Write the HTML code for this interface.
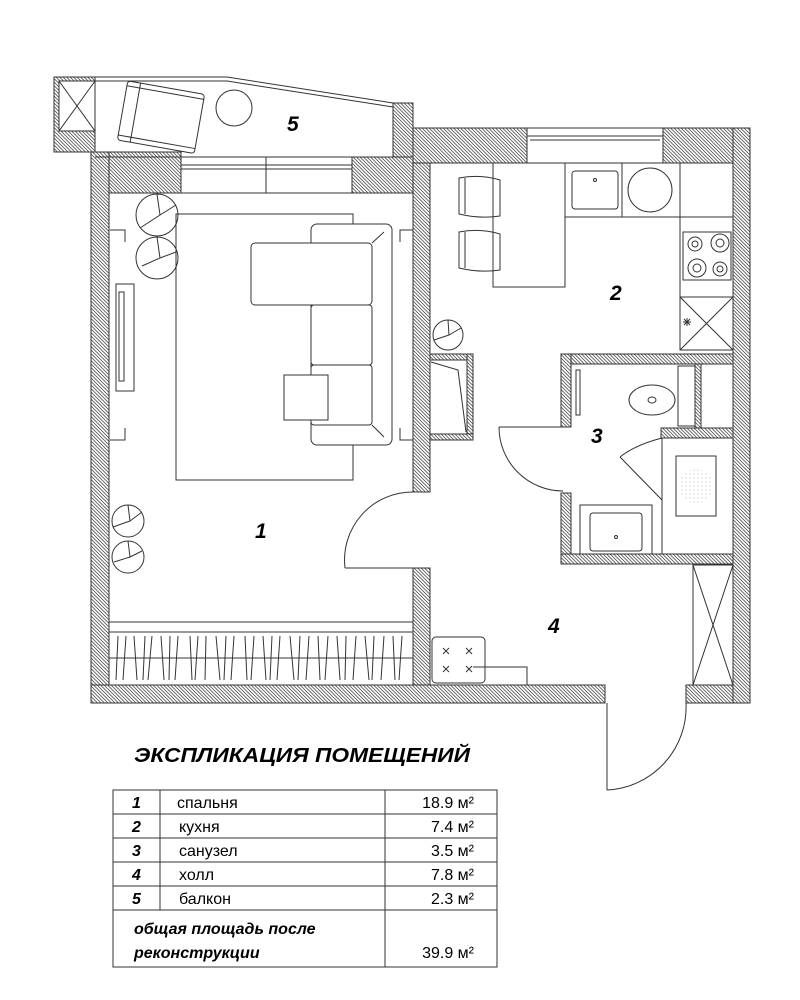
<!DOCTYPE html>
<html><head><meta charset="utf-8"><style>
html,body{margin:0;padding:0;background:#fff}
svg{display:block}
text{font-family:"Liberation Sans",sans-serif}
.n{font-weight:bold;font-style:italic;font-size:21px}
</style></head><body>
<svg width="800" height="1000" viewBox="0 0 800 1000" xmlns="http://www.w3.org/2000/svg">
<defs>
<pattern id="h" patternUnits="userSpaceOnUse" width="3.5" height="3.5">
<rect width="3.5" height="3.5" fill="#fff"/>
<path d="M-1,-1 L4.5,4.5 M-1,2.5 L1,4.5 M2.5,-1 L4.5,1" stroke="#555" stroke-width="0.8"/>
</pattern>
<pattern id="d" patternUnits="userSpaceOnUse" width="4" height="4">
<circle cx="2" cy="2" r="0.5" fill="#999"/>
</pattern>
</defs>
<g fill="url(#h)" stroke="#333" stroke-width="1">
<rect x="54" y="77" width="41" height="75"/>
<rect x="393" y="103" width="20" height="54"/>
<rect x="91" y="152" width="90" height="41"/>
<rect x="352" y="157" width="78" height="36"/>
<rect x="91" y="152" width="18" height="551"/>
<rect x="91" y="685" width="514" height="18"/>
<rect x="686" y="685" width="64" height="18"/>
<rect x="413" y="128" width="17" height="364"/>
<rect x="413" y="568" width="17" height="117"/>
<rect x="413" y="128" width="114" height="35"/>
<rect x="663" y="128" width="87" height="35"/>
<rect x="733" y="128" width="17" height="575"/>
<rect x="561" y="354" width="172" height="10"/>
<rect x="561" y="354" width="10" height="73"/>
<rect x="561" y="493" width="10" height="71"/>
<rect x="561" y="554" width="172" height="10"/>
<rect x="661" y="428" width="72" height="10"/>
<rect x="695" y="364" width="6" height="64"/>
<rect x="430" y="354" width="43" height="6"/>
<rect x="467" y="354" width="6" height="86"/>
<rect x="430" y="434" width="43" height="6"/>
</g>
<g fill="#fff" stroke="#333" stroke-width="1">
<rect x="431" y="361" width="35" height="72" stroke="none"/>
<rect x="59" y="81" width="36" height="50"/>
<rect x="693" y="565" width="40" height="120"/>
<rect x="680" y="297" width="53" height="53"/>
</g>
<g stroke="#333" stroke-width="1" fill="none">
<path d="M59,81 L95,131 M95,81 L59,131"/>
<path d="M693,565 L733,685 M733,565 L693,685"/>
<path d="M680,297 L733,350 M733,297 L680,350"/>
<path d="M431,362 L458,370 L466,432"/>
<path d="M54,77 L227,77 L393,103"/>
<path d="M95,81 L227,81 L393,107"/>
<path d="M95,157 L393,157"/>
<rect x="181" y="157" width="171" height="36" fill="#fff"/>
<path d="M181,165 H352 M181,169 H352 M266,157 V193"/>
<rect x="527" y="128" width="136" height="35" fill="#fff"/>
<path d="M527,136 H663 M530,140 H660"/>
<g transform="rotate(10 160 117)">
<rect x="122" y="87" width="78" height="60" rx="3"/>
<path d="M122,92 H200 M122,142 H200 M135,87 V147"/>
</g>
<circle cx="234" cy="108" r="18"/>
<rect x="176" y="214" width="177" height="266"/>
<rect x="311" y="224" width="81" height="221" rx="6" fill="#fff"/>
<rect x="251" y="243" width="121" height="62" rx="4" fill="#fff"/>
<rect x="311" y="305" width="61" height="60" rx="3"/>
<rect x="311" y="365" width="61" height="60" rx="3" fill="#fff"/>
<path d="M372,243 L384,232 M372,425 L384,437"/>
<rect x="284" y="375" width="44" height="45" fill="#fff"/>
<rect x="116" y="284" width="18" height="107"/>
<rect x="119" y="292" width="5" height="89"/>
<path d="M110,230 H125 V242 M110,440 H125 V428 M413,230 H400 V242 M413,440 H400 V428"/>
<circle cx="157" cy="215" r="21"/><circle cx="157" cy="258" r="21"/>
<circle cx="128" cy="521" r="16"/><circle cx="128" cy="557" r="16"/>
<circle cx="448" cy="335" r="15"/>
<path d="M157,194 L160,215 L140,228 M160,215 L176,205 M157,237 L160,258 L142,266 M160,258 L176,252 M128,505 L130,521 L113,527 M130,521 L142,512 M128,541 L130,557 L114,562 M130,557 L142,551 M448,320 L449,335 L434,340 M449,335 L461,328"/>
<rect x="109" y="622" width="304" height="10"/>
<rect x="109" y="632" width="304" height="53"/>
<path d="M109,658 H413"/>
<path d="M118,636 l-2,44 M126,636 l-3,44 M134,636 l3,44 M145,636 l-2,44 M152,636 l-4,44 M161,636 l3,44 M170,636 l-1,44 M178,636 l-3,44 M190,636 l2,44 M198,636 l-3,44 M206,636 l-1,44 M216,636 l4,44 M226,636 l-2,44 M234,636 l-3,44 M245,636 l2,44 M254,636 l-3,44 M263,636 l3,44 M272,636 l-2,44 M280,636 l-3,44 M290,636 l4,44 M300,636 l-2,44 M309,636 l-3,44 M318,636 l2,44 M328,636 l-3,44 M337,636 l3,44 M346,636 l-1,44 M356,636 l-3,44 M365,636 l4,44 M374,636 l-2,44 M384,636 l-3,44 M393,636 l2,44 M402,636 l-3,44"/>
<path d="M345,568 H413 M345,568 A68,68 0 0 1 413,492"/>
<path d="M499,427 H563 M499,427 A64,64 0 0 0 563,491"/>
<path d="M607,703 V790 M607,790 A83,83 0 0 0 686,703"/>
<rect x="493" y="163" width="72" height="124"/>
<rect x="565" y="163" width="115" height="54"/>
<path d="M622,163 V217"/>
<rect x="572" y="171" width="46" height="38" rx="3"/>
<circle cx="595" cy="180" r="1.5"/>
<circle cx="650" cy="190" r="22"/>
<rect x="680" y="163" width="53" height="134"/>
<path d="M680,217 H733"/>
<rect x="683" y="232" width="48" height="48"/>
<circle cx="695" cy="244" r="7"/><circle cx="720" cy="243" r="9"/><circle cx="697" cy="268" r="9"/><circle cx="720" cy="269" r="7"/>
<circle cx="695" cy="244" r="3"/><circle cx="720" cy="243" r="4"/><circle cx="697" cy="268" r="4"/><circle cx="720" cy="269" r="3"/>
<path d="M459,178 Q480,174 500,180 V216 Q480,219 459,214 Z M465,178 V214"/>
<path d="M459,232 Q480,228 500,234 V270 Q480,273 459,268 Z M465,232 V268"/>
<path d="M683,322 l8,0 M687,318 l0,8 M684,319 l6,6 M690,319 l-6,6"/>
<rect x="678" y="366" width="17" height="60"/>
<ellipse cx="652" cy="400" rx="23" ry="15"/>
<ellipse cx="652" cy="400" rx="4" ry="3"/>
<rect x="576" y="370" width="4" height="45"/>
<rect x="580" y="505" width="72" height="49"/>
<rect x="590" y="513" width="52" height="38" rx="3"/>
<circle cx="616" cy="537" r="1.5"/>
<path d="M662,438 V554 M620,457 L662,500 M662,438 Q635,445 620,457"/>
<rect x="676" y="456" width="40" height="60"/>
<circle cx="696" cy="486" r="17" fill="url(#d)" stroke="none"/>
<rect x="432" y="637" width="53" height="46" rx="4"/>
<path d="M473,667 H527 V685"/>
<path d="M443,648 l6,6 M449,648 l-6,6 M466,648 l6,6 M472,648 l-6,6 M443,666 l6,6 M449,666 l-6,6 M466,666 l6,6 M472,666 l-6,6"/>
</g>
<text class="n" x="287" y="131">5</text>
<text class="n" x="610" y="300">2</text>
<text class="n" x="255" y="538">1</text>
<text class="n" x="591" y="443">3</text>
<text class="n" x="548" y="633">4</text>
<text x="134" y="762" font-size="20" font-weight="bold" font-style="italic" textLength="336" lengthAdjust="spacingAndGlyphs">ЭКСПЛИКАЦИЯ ПОМЕЩЕНИЙ</text>
<g stroke="#333" stroke-width="1" fill="none">
<rect x="113" y="790" width="384" height="177"/>
<path d="M113,814 H497 M113,838 H497 M113,862 H497 M113,886 H497 M113,910 H497 M160,790 V910 M385,790 V967"/>
</g>
<g font-size="16">
<text x="132" y="808" font-weight="bold" font-style="italic">1</text>
<text x="132" y="832" font-weight="bold" font-style="italic">2</text>
<text x="132" y="856" font-weight="bold" font-style="italic">3</text>
<text x="132" y="880" font-weight="bold" font-style="italic">4</text>
<text x="132" y="904" font-weight="bold" font-style="italic">5</text>
<text x="177" y="808">спальня</text>
<text x="179" y="832">кухня</text>
<text x="179" y="856">санузел</text>
<text x="179" y="880">холл</text>
<text x="179" y="904">балкон</text>
<g text-anchor="end">
<text x="474" y="808">18.9  м²</text>
<text x="474" y="832">7.4  м²</text>
<text x="474" y="856">3.5  м²</text>
<text x="474" y="880">7.8  м²</text>
<text x="474" y="904">2.3  м²</text>
<text x="474" y="958">39.9 м²</text>
</g>
<text x="134" y="934" font-weight="bold" font-style="italic">общая площадь после</text>
<text x="134" y="958" font-weight="bold" font-style="italic">реконструкции</text>
</g>
</svg>
</body></html>
